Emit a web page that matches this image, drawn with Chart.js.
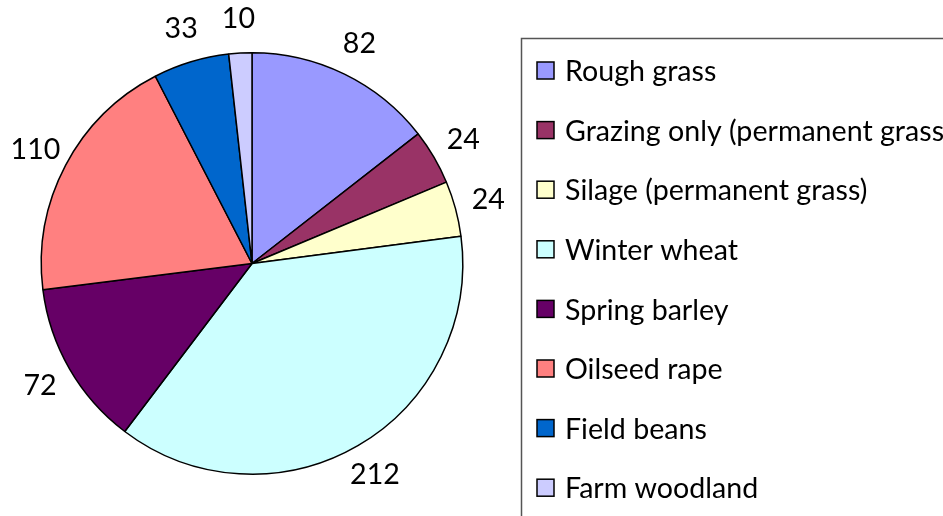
<!DOCTYPE html>
<html>
<head>
<meta charset="utf-8">
<script src="https://cdn.jsdelivr.net/npm/chart.js@4/dist/chart.umd.min.js"></script>
<style>
  html, body { margin: 0; padding: 0; background: #fff; overflow: hidden; }
  #wrap { width: 943px; height: 516px; position: relative; }
</style>
</head>
<body>
<div id="wrap"><canvas id="cropChart" width="943" height="516"></canvas></div>
<script>
// land use categories and areas
const categories = [
  "Rough grass",
  "Grazing only (permanent grass)",
  "Silage (permanent grass)",
  "Winter wheat",
  "Spring barley",
  "Oilseed rape",
  "Field beans",
  "Farm woodland"
];
const areas = [82, 24, 24, 212, 72, 110, 33, 10];
const sliceColors = ["#9999FF", "#993366", "#FFFFCC", "#CCFFFF", "#660066", "#FF8080", "#0066CC", "#CCCCFF"];

const fontFamily = "Lato, 'Open Sans', sans-serif";

// pick a font size so text widths come close to the original
function fitFontSize(ctx) {
  ctx.font = "100px " + fontFamily;
  const w = ctx.measureText("Silage (permanent grass)").width;
  return Math.round(100 * 302 / w * 10) / 10;
}

// value labels outside the slices
const sliceLabels = {
  id: "sliceLabels",
  afterDatasetsDraw(chart) {
    const ctx = chart.ctx;
    const meta = chart.getDatasetMeta(0);
    const size = fitFontSize(ctx);
    ctx.save();
    ctx.font = size + "px " + fontFamily;
    ctx.fillStyle = "#000";
    ctx.textAlign = "center";
    ctx.textBaseline = "middle";
    meta.data.forEach((arc, i) => {
      const mid = (arc.startAngle + arc.endAngle) / 2;
      const r = arc.outerRadius + 34;
      ctx.fillText(String(areas[i]), arc.x + Math.cos(mid) * r, arc.y + Math.sin(mid) * r);
    });
    ctx.restore();
  }
};

// boxed legend on the right
const boxLegend = {
  id: "boxLegend",
  afterDraw(chart) {
    const ctx = chart.ctx;
    const size = fitFontSize(ctx);
    ctx.save();
    ctx.strokeStyle = "#555";
    ctx.lineWidth = 1.5;
    ctx.strokeRect(521.5, 38.5, 460, 520);
    ctx.font = size + "px " + fontFamily;
    ctx.textBaseline = "middle";
    ctx.textAlign = "left";
    categories.forEach((name, i) => {
      const y = 71 + i * 59.6;
      ctx.fillStyle = sliceColors[i];
      ctx.fillRect(537, y - 9, 17, 17);
      ctx.strokeStyle = "#000";
      ctx.lineWidth = 1.5;
      ctx.strokeRect(537, y - 9, 17, 17);
      ctx.fillStyle = "#000";
      ctx.fillText(name, 565, y + 1);
    });
    ctx.restore();
  }
};

new Chart(document.getElementById("cropChart"), {
  type: "pie",
  data: {
    labels: categories,
    datasets: [{
      data: areas,
      backgroundColor: sliceColors,
      borderColor: "#000",
      borderWidth: 1.5
    }]
  },
  options: {
    responsive: false,
    animation: false,
    events: [],
    layout: { padding: { left: 40, top: 52, right: 479, bottom: 41 } },
    plugins: {
      legend: { display: false },
      tooltip: { enabled: false }
    }
  },
  plugins: [sliceLabels, boxLegend]
});
</script>
</body>
</html>
